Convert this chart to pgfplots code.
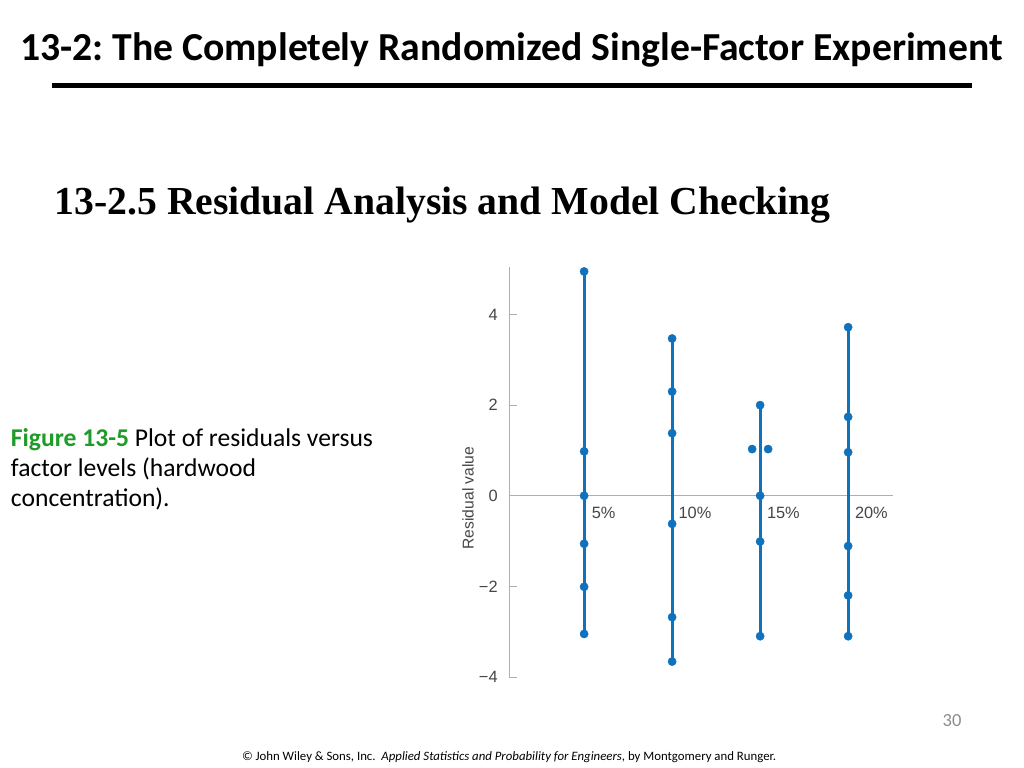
\documentclass[border=0pt]{standalone}
\usepackage{pgfplots}
\pgfplotsset{compat=1.18}
\usepackage{fontspec}
\setmainfont{Carlito}
\newfontfamily\hv{Liberation Sans}
\newfontfamily\tms{Liberation Serif}
\definecolor{ptblue}{RGB}{16,114,189}
\definecolor{figgreen}{RGB}{30,155,40}
\definecolor{axgray}{RGB}{175,175,175}
\definecolor{txtgray}{RGB}{70,70,70}
\definecolor{numgray}{RGB}{140,140,140}
\frenchspacing
\begin{document}
\begin{tikzpicture}
\fill[white] (0,0) rectangle (720pt,540pt);
% title
\node[anchor=base, inner sep=0] at (359.6pt,497.8pt) {\fontsize{27.9}{32}\selectfont\bfseries 13-2: The Completely Randomized Single-Factor Experiment};
\fill[black] (36.6pt,477.8pt) rectangle (683.4pt,481.3pt);
% subtitle
\node[anchor=base west, inner sep=0] at (38.2pt,389.5pt) {\tms\bfseries\fontsize{27.9}{33}\selectfont 13-2.5 Residual Analysis and Model Checking};
% caption
\node[anchor=base west, inner sep=0] at (7.5pt,226.4pt) {\fontsize{18}{21.6}\selectfont\textcolor{figgreen}{\bfseries Figure 13-5} Plot of residuals versus};
\node[anchor=base west, inner sep=0] at (7.5pt,205.3pt) {\fontsize{18}{21.6}\selectfont factor levels (hardwood};
\node[anchor=base west, inner sep=0] at (7.5pt,184.2pt) {\fontsize{18}{21.6}\selectfont concentration).};
% page number and footer
\node[anchor=base, inner sep=0, text=numgray] at (669.4pt,29.5pt) {\fontsize{13}{15}\selectfont 30};
\node[anchor=base, inner sep=0] at (357.9pt,5.6pt) {\fontsize{9}{11}\selectfont \textcopyright{} John Wiley \& Sons, Inc.\ \ \textit{Applied Statistics and Probability for Engineers}, by Montgomery and Runger.};
% y label
\node[rotate=90, inner sep=0, text=txtgray] at (329.1pt,189.8pt) {\hv\fontsize{11}{13}\selectfont Residual value};
\begin{axis}[
  at={(358.1pt,64pt)}, anchor=south west,
  scale only axis, width=269.8pt, height=288.3pt,
  xmin=0.15, xmax=4.51, ymin=-4, ymax=5.05,
  axis x line=none, axis y line*=left,
  axis line style={axgray, line width=0.6pt},
  ytick={-4,-2,0,2,4}, yticklabels={−4,−2,0,2,4},
  tick align=inside, major tick length=5.6pt,
  tick style={axgray, line width=0.6pt},
  yticklabel style={font=\hv\fontsize{11.5}{13}\selectfont, text=txtgray, inner sep=0pt, xshift=-8pt},
  clip=false,
  every axis plot post/.append style={mark options={solid, line width=0.3pt}},
]
\addplot[axgray, line width=0.6pt] coordinates {(0.15,0) (4.51,0)};
\addplot[ptblue, line width=2pt, mark=*, mark size=2.9pt] coordinates {
  (1,-3.05) (1,-2.01) (1,-1.06) (1,0) (1,0.98) (1,4.95)};
\addplot[ptblue, line width=2pt, mark=*, mark size=2.9pt] coordinates {
  (2,-3.66) (2,-2.68) (2,-0.62) (2,1.38) (2,2.30) (2,3.47)};
\addplot[ptblue, line width=2pt, mark=*, mark size=2.9pt] coordinates {
  (3,-3.10) (3,-1.01) (3,0) (3,2.0)};
\addplot[ptblue, only marks, mark=*, mark size=2.9pt] coordinates {
  (2.909,1.03) (3.091,1.03)};
\addplot[ptblue, line width=2pt, mark=*, mark size=2.9pt] coordinates {
  (4,-3.10) (4,-2.20) (4,-1.11) (4,0.96) (4,1.74) (4,3.72)};
\node[anchor=west, inner sep=0, text=txtgray, font=\hv\fontsize{11.5}{13}\selectfont] at (axis cs:1.085,-0.37) {5\%};
\node[anchor=west, inner sep=0, text=txtgray, font=\hv\fontsize{11.5}{13}\selectfont] at (axis cs:2.07,-0.37) {10\%};
\node[anchor=west, inner sep=0, text=txtgray, font=\hv\fontsize{11.5}{13}\selectfont] at (axis cs:3.075,-0.37) {15\%};
\node[anchor=west, inner sep=0, text=txtgray, font=\hv\fontsize{11.5}{13}\selectfont] at (axis cs:4.075,-0.37) {20\%};
\end{axis}
\end{tikzpicture}
\end{document}
